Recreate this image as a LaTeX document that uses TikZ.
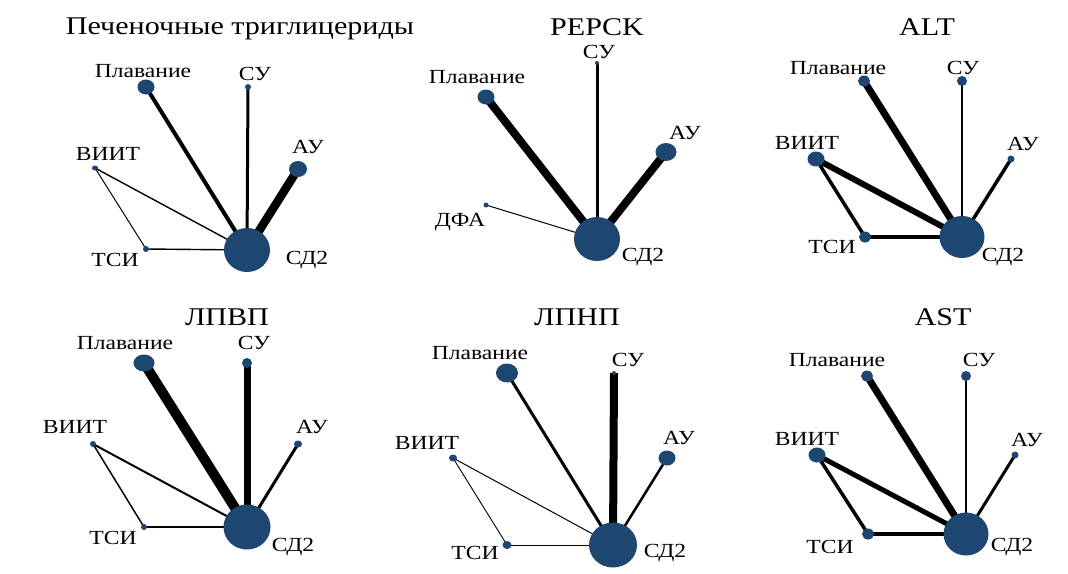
\documentclass[tikz,border=0pt]{standalone}
\usepackage{fontspec}
\setmainfont{Liberation Serif}[FakeStretch=1.18]
\usetikzlibrary{shapes.geometric,backgrounds}
\definecolor{nodeblue}{RGB}{29,70,112}
\tikzset{
  ttl/.style={font=\fontsize{25.5}{25.5}\selectfont, inner sep=0pt},
  lab/.style={font=\fontsize{20}{20}\selectfont, inner sep=0pt},
  nd/.style={ellipse, fill=nodeblue, inner sep=0pt},
  ed/.style={line width=#1, draw=black},
}
\begin{document}
\begin{tikzpicture}[x=1pt,y=-1pt]
\useasboundingbox (0,0) rectangle (1068,573);

% ---------- Hepatic triglycerides ----------
\node[ttl] (aT) at (240,29) {Печеночные триглицериды};
\node[nd, minimum width=17, minimum height=15] (aP) at (146,87) {};
\node[nd, minimum width=6, minimum height=6] (aS) at (248,87) {};
\node[nd, minimum width=18, minimum height=16] (aA) at (298,169) {};
\node[nd, minimum width=6, minimum height=5] (aV) at (95,168) {};
\node[nd, minimum width=6, minimum height=6] (aK) at (146,249) {};
\node[nd, minimum width=46, minimum height=44] (aD) at (247,250) {};
\node[lab] at (143,71) {Плавание};
\node[lab] at (255,74) {СУ};
\node[lab] at (308,147) {АУ};
\node[lab] at (108,154) {ВИИТ};
\node[lab] at (115,260) {ТСИ};
\node[lab] at (307,260) {СД2};
\begin{scope}[on background layer]
\draw[ed=4pt] (aP.center) -- (aD.center);
\draw[ed=3pt] (aS.center) -- (aD.center);
\draw[ed=8.5pt] (aA.center) -- (aD.center);
\draw[ed=1.4pt] (aV.center) -- (aD.center);
\draw[ed=1pt] (aV.center) -- (aK.center);
\draw[ed=1.4pt] (aK.center) -- (aD.center);
\end{scope}

% ---------- PEPCK ----------
\node[ttl] (bT) at (597,27) {PEPCK};
\node[nd, minimum width=17, minimum height=15] (bP) at (486,97) {};
\node[nd, minimum width=4, minimum height=4] (bS) at (597,63) {};
\node[nd, minimum width=21, minimum height=18] (bA) at (666,152) {};
\node[nd, minimum width=5, minimum height=5] (bF) at (486,205) {};
\node[nd, minimum width=46, minimum height=44] (bD) at (597,239) {};
\node[lab] at (477,77) {Плавание};
\node[lab] at (599,52) {СУ};
\node[lab] at (685,133) {АУ};
\node[lab] at (460,222) {ДФА};
\node[lab] at (643,257) {СД2};
\begin{scope}[on background layer]
\draw[ed=8pt] (bP.center) -- (bD.center);
\draw[ed=3pt] (bS.center) -- (bD.center);
\draw[ed=8pt] (bA.center) -- (bD.center);
\draw[ed=1pt] (bF.center) -- (bD.center);
\end{scope}

% ---------- ALT ----------
\node[ttl] (cT) at (927,27) {ALT};
\node[nd, minimum width=12, minimum height=11] (cP) at (864,81) {};
\node[nd, minimum width=10, minimum height=10] (cS) at (962,81) {};
\node[nd, minimum width=7, minimum height=7] (cA) at (1011,159) {};
\node[nd, minimum width=17, minimum height=15] (cV) at (816,159) {};
\node[nd, minimum width=12, minimum height=11] (cK) at (865,237) {};
\node[nd, minimum width=45, minimum height=42] (cD) at (962,237) {};
\node[lab] at (838,68) {Плавание};
\node[lab] at (963,68) {СУ};
\node[lab] at (1023,144) {АУ};
\node[lab] at (807,143) {ВИИТ};
\node[lab] at (832,247) {ТСИ};
\node[lab] at (1003,257) {СД2};
\begin{scope}[on background layer]
\draw[ed=7pt] (cP.center) -- (cD.center);
\draw[ed=2.5pt] (cS.center) -- (cD.center);
\draw[ed=3.5pt] (cA.center) -- (cD.center);
\draw[ed=6pt] (cV.center) -- (cD.center);
\draw[ed=3.5pt] (cV.center) -- (cK.center);
\draw[ed=3.5pt] (cK.center) -- (cD.center);
\end{scope}

% ---------- HDL ----------
\node[ttl] (dT) at (227,317) {ЛПВП};
\node[nd, minimum width=21, minimum height=17] (dP) at (144,363) {};
\node[nd, minimum width=10, minimum height=10] (dS) at (247,363) {};
\node[nd, minimum width=8, minimum height=7] (dA) at (298,444) {};
\node[nd, minimum width=6, minimum height=6] (dV) at (93,444) {};
\node[nd, minimum width=6, minimum height=6] (dK) at (144,527) {};
\node[nd, minimum width=47, minimum height=45] (dD) at (247,527) {};
\node[lab] at (125,343) {Плавание};
\node[lab] at (254,343) {СУ};
\node[lab] at (312,427) {АУ};
\node[lab] at (75,427) {ВИИТ};
\node[lab] at (113,538) {ТСИ};
\node[lab] at (293,547) {СД2};
\begin{scope}[on background layer]
\draw[ed=10pt] (dP.center) -- (dD.center);
\draw[ed=7pt] (dS.center) -- (dD.center);
\draw[ed=3pt] (dA.center) -- (dD.center);
\draw[ed=2pt] (dV.center) -- (dD.center);
\draw[ed=1.5pt] (dV.center) -- (dK.center);
\draw[ed=1.5pt] (dK.center) -- (dD.center);
\end{scope}

% ---------- LDL ----------
\node[ttl] (eT) at (577,317) {ЛПНП};
\node[nd, minimum width=22, minimum height=19] (eP) at (507,373) {};
\node[nd, minimum width=4, minimum height=4] (eS) at (614,373) {};
\node[nd, minimum width=17, minimum height=15] (eA) at (667,458) {};
\node[nd, minimum width=8, minimum height=7] (eV) at (453,458) {};
\node[nd, minimum width=9, minimum height=8] (eK) at (507,545) {};
\node[nd, minimum width=48, minimum height=45] (eD) at (613,545) {};
\node[lab] at (480,353) {Плавание};
\node[lab] at (628,360) {СУ};
\node[lab] at (679,438) {АУ};
\node[lab] at (427,443) {ВИИТ};
\node[lab] at (475,553) {ТСИ};
\node[lab] at (665,553) {СД2};
\begin{scope}[on background layer]
\draw[ed=3pt] (eP.center) -- (eD.center);
\draw[ed=8pt] (eS.center) -- (eD.center);
\draw[ed=2.5pt] (eA.center) -- (eD.center);
\draw[ed=1pt] (eV.center) -- (eD.center);
\draw[ed=0.9pt] (eV.center) -- (eK.center);
\draw[ed=1pt] (eK.center) -- (eD.center);
\end{scope}

% ---------- AST ----------
\node[ttl] (fT) at (943,317) {AST};
\node[nd, minimum width=12, minimum height=11] (fP) at (867,376) {};
\node[nd, minimum width=10, minimum height=10] (fS) at (966,376) {};
\node[nd, minimum width=7, minimum height=7] (fA) at (1015,455) {};
\node[nd, minimum width=17, minimum height=15] (fV) at (817,455) {};
\node[nd, minimum width=12, minimum height=11] (fK) at (868,534) {};
\node[nd, minimum width=45, minimum height=43] (fD) at (966,534) {};
\node[lab] at (837,360) {Плавание};
\node[lab] at (979,360) {СУ};
\node[lab] at (1027,440) {АУ};
\node[lab] at (807,439) {ВИИТ};
\node[lab] at (830,547) {ТСИ};
\node[lab] at (1012,547) {СД2};
\begin{scope}[on background layer]
\draw[ed=7pt] (fP.center) -- (fD.center);
\draw[ed=2.5pt] (fS.center) -- (fD.center);
\draw[ed=3pt] (fA.center) -- (fD.center);
\draw[ed=5pt] (fV.center) -- (fD.center);
\draw[ed=3.5pt] (fV.center) -- (fK.center);
\draw[ed=3.5pt] (fK.center) -- (fD.center);
\end{scope}
\end{tikzpicture}
\end{document}
